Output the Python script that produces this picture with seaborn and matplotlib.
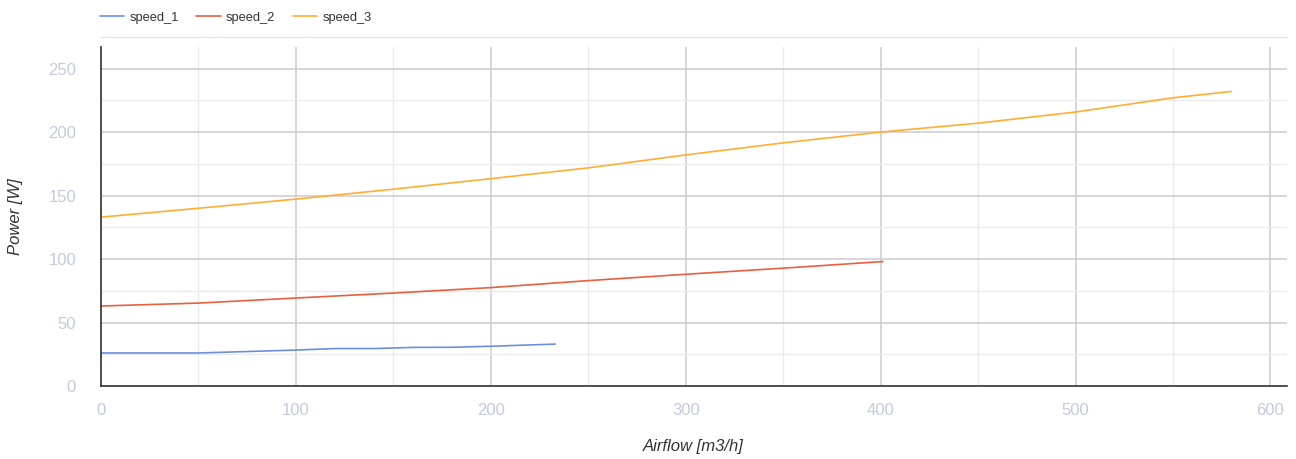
import matplotlib.pyplot as plt
import numpy as np
import pandas as pd
import seaborn as sns
from matplotlib.lines import Line2D
from matplotlib.ticker import MultipleLocator

# fan curves
airflow_1 = [0, 50, 100, 120, 140, 160, 180, 200, 233]
power_1 = [26, 26, 28.3, 29.5, 29.5, 30.4, 30.5, 31.3, 33]

airflow_2 = [0, 50, 100, 150, 200, 250, 300, 350, 401]
power_2 = [63, 65.3, 69.3, 73.2, 77.5, 83, 88, 92.8, 98]

airflow_3 = [0, 50, 100, 150, 200, 250, 300, 350, 400, 450, 500, 550, 580]
power_3 = [133, 140, 147.2, 155, 163.3, 171.8, 182, 191.5, 200, 207, 215.8, 227, 232]

series = ["speed_1", "speed_2", "speed_3"]
colors = ["#6b8fe0", "#e8603f", "#ffad33"]

df = pd.concat([
    pd.DataFrame({"airflow": x, "power": y, "series": name})
    for x, y, name in zip([airflow_1, airflow_2, airflow_3],
                          [power_1, power_2, power_3], series)
])

sns.set_style("white")
plt.rcParams["font.family"] = ["Liberation Sans", "DejaVu Sans"]

W, H = 1296, 459
fig = plt.figure(figsize=(W / 100, H / 100), dpi=100)
ax = fig.add_axes([101 / W, 73 / H, 1186 / W, 339 / H])

sns.lineplot(df, x="airflow", y="power", hue="series", palette=colors,
             lw=1.2, ax=ax, legend=False, sort=False)

ax.set_xlim(0, 608.5)
ax.set_ylim(0, 267)
ax.xaxis.set_major_locator(MultipleLocator(100))
ax.xaxis.set_minor_locator(MultipleLocator(50))
ax.yaxis.set_major_locator(MultipleLocator(50))
ax.yaxis.set_minor_locator(MultipleLocator(25))
ax.grid(which="major", color="#cccccc", lw=1.1)
ax.grid(which="minor", color="#ebebeb", lw=1.0)
ax.set_axisbelow(True)

for s in ["top", "right"]:
    ax.spines[s].set_visible(False)
for s in ["left", "bottom"]:
    ax.spines[s].set_color("#333333")
    ax.spines[s].set_linewidth(1.2)

ax.tick_params(axis="both", which="both", length=0, labelsize=12,
               labelcolor="#c4cadc")
ax.tick_params(axis="y", pad=18)
ax.tick_params(axis="x", pad=12)

ax.set_xlabel("Airflow [m3/h]", style="italic", fontsize=12, color="#333333",
              va="center")
ax.set_ylabel("Power [W]", style="italic", fontsize=12, color="#333333",
              va="center")
ax.xaxis.set_label_coords((693 - 101) / 1186, (386 - 447) / 339)
ax.yaxis.set_label_coords((16 - 101) / 1186, (386 - 217) / 339)

# legend row at top with thin separator line
handles = [Line2D([], [], color=c, lw=1.2) for c in colors]
fig.legend(handles, series, loc="center left",
           bbox_to_anchor=(88 / W, 1 - 17.5 / H),
           ncol=3, frameon=False, fontsize=9.3, handlelength=1.9,
           handletextpad=0.4, columnspacing=1.35, labelcolor="#333333")
fig.add_artist(Line2D([101 / W, 1287 / W], [1 - 37 / H, 1 - 37 / H],
                      color="#e6e6e6", lw=1.0, transform=fig.transFigure))

fig.savefig("out.png", dpi=100)
